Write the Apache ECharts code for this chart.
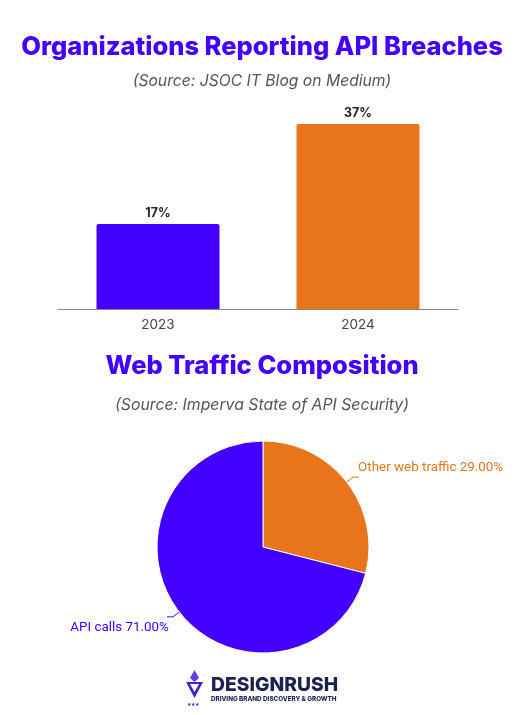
<!DOCTYPE html>
<html><head><meta charset="utf-8">
<script src="https://cdn.jsdelivr.net/npm/echarts@6/dist/echarts.min.js"></script>
<style>html,body{margin:0;padding:0;background:#fff;}#c{width:524px;height:715px;}</style>
</head><body><div id="c"></div>
<script>
const barCategories = ['2023', '2024'];
const barValues = [17, 37];
const pieNames = ['Other web traffic', 'API calls'];
const pieValues = [29, 71];
const purple = '#4400FF';
const orange = '#E8741B';

const chart = echarts.init(document.getElementById('c'));
chart.setOption({
  animation: false,
  backgroundColor: '#ffffff',
  title: [
    {text: 'Organizations Reporting API Breaches', left: 'center', top: 29,
     textStyle: {fontFamily: 'Inter', fontWeight: 800, fontSize: 25.5, color: purple}},
    {text: '(Source: JSOC IT Blog on Medium)', left: 'center', top: 68,
     textStyle: {fontFamily: 'Inter', fontStyle: 'italic', fontWeight: 400, fontSize: 15.7, color: '#555'}},
    {text: 'Web Traffic Composition', left: 'center', top: 348,
     textStyle: {fontFamily: 'Inter', fontWeight: 800, fontSize: 25.5, color: purple}},
    {text: '(Source: Imperva State of API Security)', left: 'center', top: 392,
     textStyle: {fontFamily: 'Inter', fontStyle: 'italic', fontWeight: 400, fontSize: 15.8, color: '#555'}}
  ],
  grid: {left: 58, width: 400, top: 109, height: 200},
  xAxis: {
    type: 'category', data: barCategories,
    axisLine: {lineStyle: {color: '#888', width: 1}},
    axisTick: {show: false},
    axisLabel: {fontFamily: 'Inter', fontSize: 13.5, color: '#444', margin: 9}
  },
  yAxis: {type: 'value', min: 0, max: 40, show: false, splitLine: {show: false}},
  series: [
    {
      type: 'bar', barWidth: '61.5%',
      data: barValues.map((v, i) => ({value: v, itemStyle: {color: i === 0 ? purple : orange, borderRadius: [2, 2, 0, 0]}})),
      label: {show: true, position: 'top', formatter: '{c}%', fontFamily: 'Inter', fontWeight: 700, fontSize: 12.5, color: '#222', distance: 4}
    },
    {
      type: 'pie', center: [263, 547], radius: 106, startAngle: 90, clockwise: true,
      data: pieNames.map((n, i) => ({name: n, value: pieValues[i], itemStyle: {color: i === 0 ? orange : purple},
        label: {color: i === 0 ? orange : purple}, labelLine: {lineStyle: {color: i === 0 ? orange : purple}}})),
      itemStyle: {borderColor: '#fff', borderWidth: 1},
      label: {show: true, formatter: p => p.name + ' ' + p.value.toFixed(2) + '%', fontFamily: 'Roboto', fontSize: 13.4},
      labelLine: {show: true, length: 8, length2: 6, lineStyle: {width: 1}},
      labelLayout: p => p.dataIndex === 0 ? {dy: -9, dx: -6} : {dy: 11, dx: 7}
    }
  ],
  graphic: [
    {type: 'group', left: 186, top: 670, children: [
      {type: 'polygon', shape: {points: [[0,12],[17,12],[8.5,28]]}, style: {fill: '#4a1fd0'}},
      {type: 'polygon', shape: {points: [[4,14],[13,14],[8.5,22]]}, style: {fill: '#ffffff'}},
      {type: 'polygon', shape: {points: [[8.5,0],[13,8],[8.5,12],[4,8]]}, style: {fill: '#6a3be6'}},
      {type: 'text', style: {text: '★★★', x: 1, y: 32, fontSize: 5, fill: '#4a1fd0'}},
      {type: 'text', style: {text: 'DESIGNRUSH', x: 25, y: 6, fontFamily: 'Inter', fontWeight: 800, fontSize: 19.3, fill: '#1b2150'}},
      {type: 'text', style: {text: 'DRIVING BRAND DISCOVERY & GROWTH', x: 25, y: 26, fontFamily: 'Inter', fontWeight: 800, fontSize: 6.3, fill: '#1b2150'}}
    ]}
  ]
});
</script></body></html>
